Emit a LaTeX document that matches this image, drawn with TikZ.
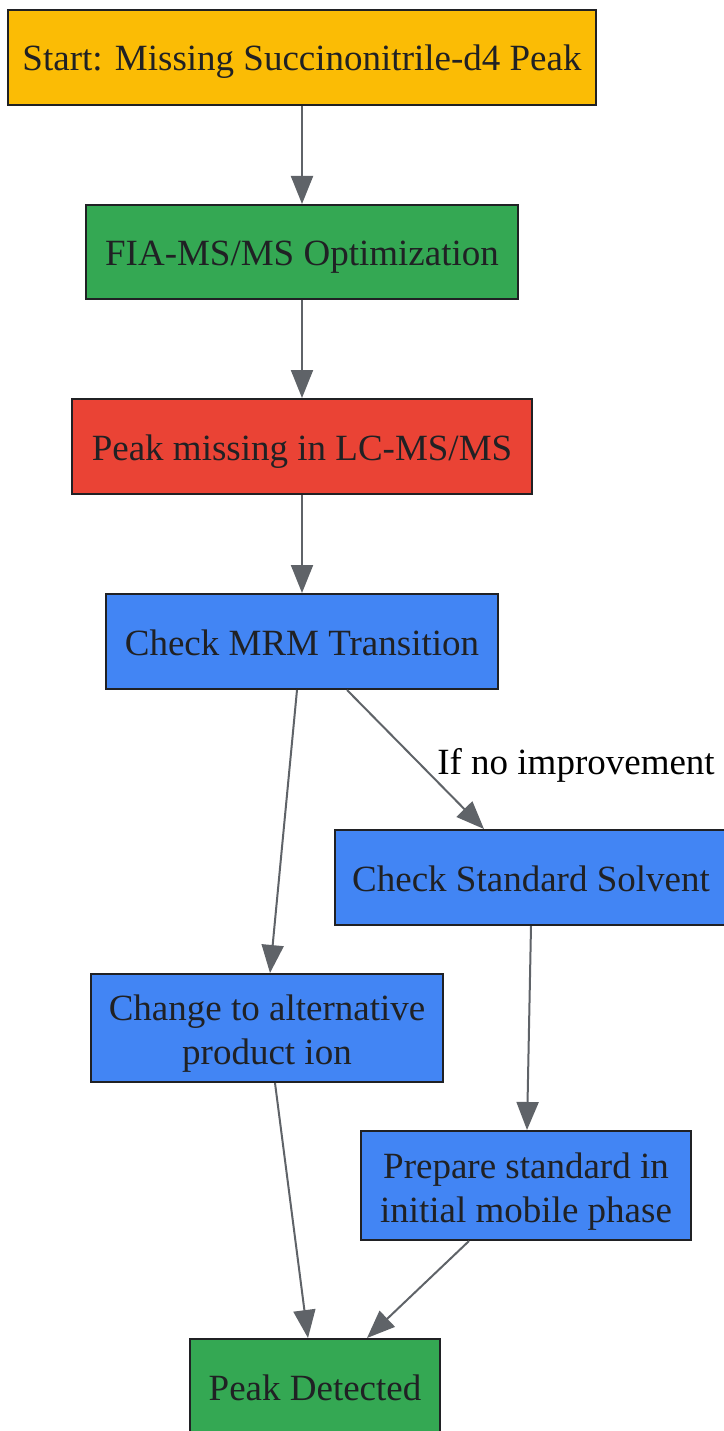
\documentclass[tikz,border=0pt]{standalone}
\usepackage{fontspec}
\setmainfont{Liberation Serif}
\usetikzlibrary{arrows.meta}
\definecolor{cyellow}{HTML}{FBBC05}
\definecolor{cgreen}{HTML}{34A853}
\definecolor{cred}{HTML}{EA4335}
\definecolor{cblue}{HTML}{4285F4}
\definecolor{ctext}{HTML}{202124}
\definecolor{cedge}{HTML}{5F6368}
\tikzset{
  box/.style={draw=ctext, line width=2pt, text=ctext, align=center, inner sep=0pt,
    font=\fontsize{37}{44}\selectfont},
  one/.style={text height=35pt, text depth=8pt},
  two/.style={text height=81pt, text depth=8pt},
  conn/.style={draw=cedge, line width=2pt, -{Triangle[length=28pt,width=22pt]}},
  lbl/.style={text=black, font=\fontsize{37}{44}\selectfont, inner sep=0pt}
}
\begin{document}
\begin{tikzpicture}[x=1pt,y=-1pt]
\useasboundingbox (0,0) rectangle (723,1431);
\node[box, one, fill=cyellow, minimum width=588pt, minimum height=95pt] (start) at (302,57.5) {Start: Missing Succinonitrile-d4 Peak};
\node[box, one, fill=cgreen, minimum width=432pt, minimum height=94pt] (fia) at (302,252) {FIA-MS/MS Optimization};
\node[box, one, fill=cred, minimum width=460pt, minimum height=95pt] (miss) at (302,446.5) {Peak missing in LC-MS/MS};
\node[box, one, fill=cblue, minimum width=392pt, minimum height=95pt] (mrm) at (302,641.5) {Check MRM Transition};
\node[box, one, fill=cblue, minimum width=392pt, minimum height=95pt] (std) at (531,877.5) {Check Standard Solvent};
\node[box, two, fill=cblue, minimum width=352pt, minimum height=108pt] (chg) at (267,1028) {Change to alternative\\product ion};
\node[box, two, fill=cblue, minimum width=330pt, minimum height=109pt] (prep) at (526,1185.5) {Prepare standard in\\initial mobile phase};
\node[box, one, fill=cgreen, minimum width=250pt, minimum height=95pt] (det) at (315,1386.5) {Peak Detected};
\node[lbl] (lab) at (576,765) {If no improvement};
\draw[conn] (start) -- (fia);
\draw[conn] (fia) -- (miss);
\draw[conn] (miss) -- (mrm);
\draw[conn] ([xshift=-5pt]mrm.south) -- ([xshift=3pt]chg.north);
\draw[conn] ([xshift=45pt]mrm.south) -- ([xshift=-47pt]std.north);
\draw[conn] (std.south) -- ([xshift=1pt]prep.north);
\draw[conn] ([xshift=8pt]chg.south) -- ([xshift=-7pt]det.north);
\draw[conn] ([xshift=-57pt]prep.south) -- ([xshift=52pt]det.north);
\end{tikzpicture}
\end{document}
